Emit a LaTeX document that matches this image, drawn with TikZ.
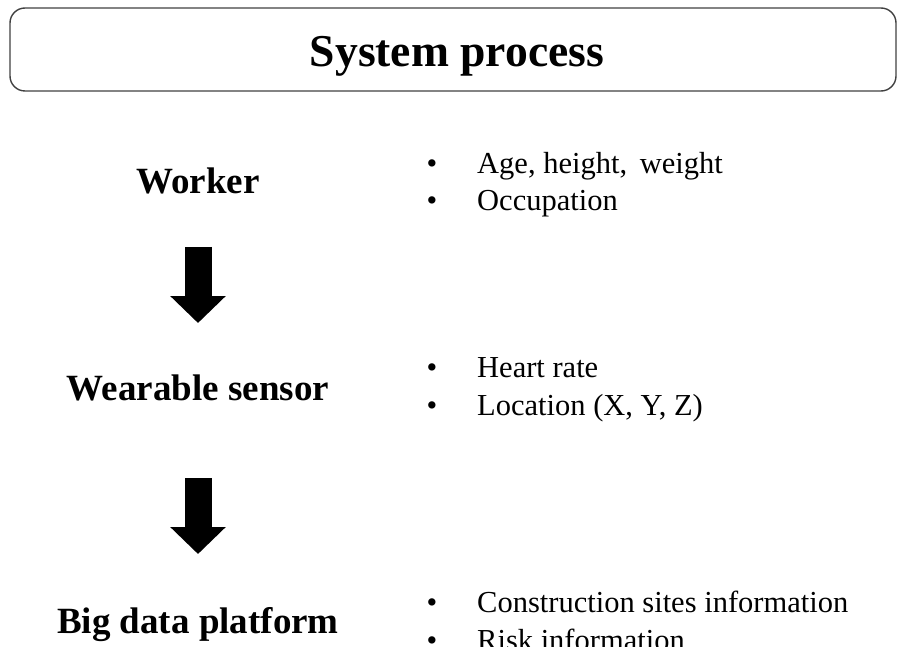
\documentclass[tikz,border=0pt]{standalone}
\usepackage{fontspec}
\setmainfont{Liberation Serif}
\usetikzlibrary{arrows.meta}
\usetikzlibrary{positioning}

\begin{document}
\begin{tikzpicture}[x=1pt,y=-1pt,
        titlebox/.style={draw=black!75, line width=1.4pt, rounded corners=15pt},
        stage/.style={font=\fontsize{37}{40}\selectfont\bfseries, anchor=base, inner sep=0pt},
        dot/.style={font=\fontsize{30.5}{34}\selectfont, anchor=base, inner sep=0pt},
        itemtext/.style={font=\fontsize{30.5}{34}\selectfont, anchor=base west, inner sep=0pt},
        bigarrow/.style={line width=27pt, -{Triangle[length=27pt,width=54pt]}}]
        \useasboundingbox (0,0) rectangle (897,647);

        % heading
        \draw[titlebox] (10,8) rectangle (896,91);
        \node[font=\fontsize{45.6}{50}\selectfont\bfseries, anchor=base, inner sep=0pt] (title) at (457,67) {System process};

        % stages
        \node[stage] (worker) at (198,194) {Worker};
        \node[stage] (sensor) at (198,400) {Wearable sensor};
        \node[stage] (platform) at (198,633) {Big data platform};

        \draw[bigarrow] ([yshift=-53pt]worker.base) -- ([yshift=77pt]sensor.base);
        \draw[bigarrow] ([yshift=-78pt]sensor.base) -- ([yshift=79pt]platform.base);

        % items
        \node[dot] (d-age) at (432,174) {\textbullet};
        \node[itemtext] (age) at (477,174) {Age, height,\, weight};
        \node[dot] (d-occ) at (432,211) {\textbullet};
        \node[itemtext] (occ) at (477,211) {Occupation};

        \node[dot] (d-hr) at (432,377) {\textbullet};
        \node[itemtext] (hr) at (477,377) {Heart rate};
        \node[dot] (d-loc) at (432,415) {\textbullet};
        \node[itemtext] (loc) at (477,415) {Location (X, Y, Z)};

        \node[dot] (d-site) at (432,612) {\textbullet};
        \node[itemtext] (site) at (477,612) {Construction sites information};
        \node[dot] (d-risk) at (432,650) {\textbullet};
        \node[itemtext] (risk) at (477,650) {Risk information};
    \end{tikzpicture}
\end{document}
